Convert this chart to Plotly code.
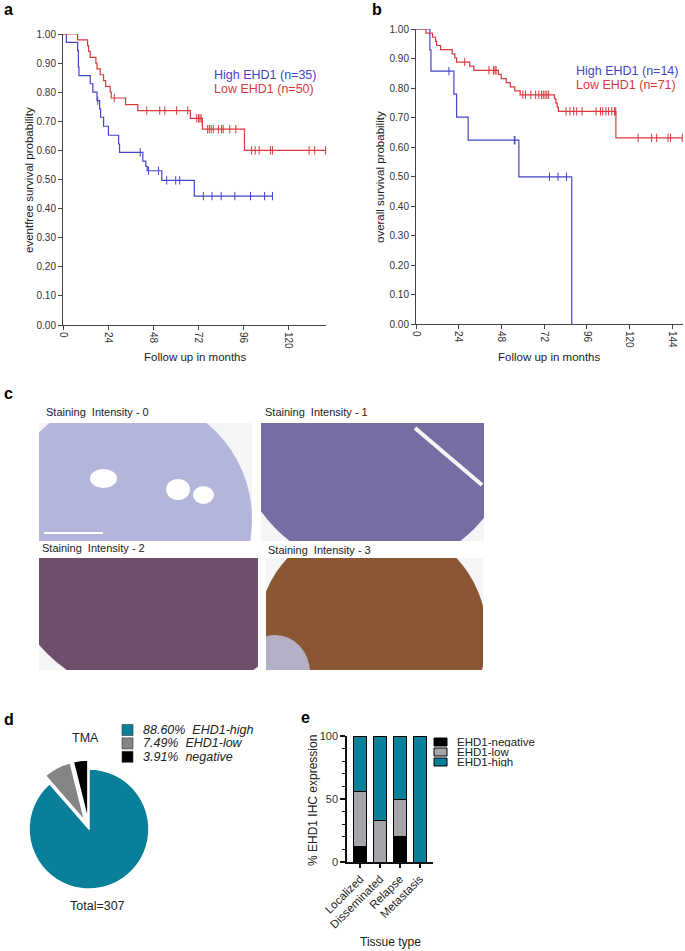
import plotly.graph_objects as go

W, H = 685, 951
FONT = "Arial, Liberation Sans, sans-serif"
BLUE = "#4444c6"
RED = "#d9393b"
TEAL = "#0a7f99"

# a: event-free survival (months, survival after each drop)
a_high_t = [0, 1.8, 7.8, 8.2, 8.5, 14.5, 15.9, 18.1, 19.5, 20.0, 21.6, 24.2, 29.6, 30.1, 42.5, 44.1, 44.8, 52.6, 69.9]
a_high_s = [1.0, 0.971, 0.943, 0.886, 0.857, 0.829, 0.800, 0.771, 0.743, 0.714, 0.683, 0.652, 0.622, 0.593, 0.563, 0.545, 0.530, 0.497, 0.443]
a_high_end = 111.5
a_high_cens = [18.5, 41.1, 45.5, 50.8, 55.2, 60.0, 62.1, 74.7, 79.3, 84.2, 91.5, 99.8, 107.3, 111.5]

a_low_t = [0, 7.8, 13.1, 13.6, 14.5, 17.5, 18.1, 19.8, 21.6, 22.7, 25.1, 25.7, 33.3, 39.8, 67.8, 74.2, 96.6]
a_low_s = [1.0, 0.98, 0.96, 0.94, 0.92, 0.90, 0.88, 0.86, 0.84, 0.82, 0.80, 0.78, 0.757, 0.737, 0.71, 0.673, 0.60]
a_low_end = 139.8
a_low_cens = [27.3, 44.6, 51.5, 54.2, 60.5, 66.4, 71.2, 72.2, 72.9, 73.6, 77.0, 77.9, 78.9, 80.0,
              82.7, 84.4, 85.3, 88.8, 92.0, 100.4, 102.3, 104.4, 110.4, 111.5, 131.0, 134.0, 139.8]

# b: overall survival
b_high_t = [0, 7.8, 8.4, 21.3, 22.8, 29.3, 57.8, 87.5]
b_high_s = [1.0, 0.929, 0.857, 0.779, 0.701, 0.623, 0.499, 0.0]
b_high_end = 87.5
b_high_cens = [18.5, 55.2, 55.6, 75.0, 79.8, 84.5]

b_low_t = [0, 5.6, 9.3, 11.0, 11.6, 13.8, 20.3, 21.8, 22.8, 30.2, 32.5, 46.3, 47.9, 50.7, 53.0, 55.5, 58.5,
           77.8, 78.6, 79.3, 80.0, 112.3]
b_low_s = [1.0, 0.986, 0.972, 0.958, 0.944, 0.930, 0.916, 0.902, 0.888, 0.874, 0.860, 0.846, 0.832, 0.818,
           0.804, 0.790, 0.777, 0.763, 0.749, 0.735, 0.721, 0.631]
b_low_end = 149.6
b_low_cens = [27.4, 41.0, 43.5, 44.4, 45.0, 60.0, 61.5, 64.5, 67.2, 69.0, 70.5, 71.5, 72.5, 73.5, 74.5,
              84.3, 86.5, 88.6, 90.3, 93.3, 101.2, 103.6, 104.9, 106.7, 108.2, 110.0, 111.5, 112.2,
              124.8, 132.4, 135.2, 141.6, 143.0, 149.6]

km_legend_a = ["High EHD1 (n=35)", "Low EHD1 (n=50)"]
km_legend_b = ["High EHD1 (n=14)", "Low EHD1 (n=71)"]
month_ticks = [0, 24, 48, 72, 96, 120, 144]

# c: staining intensity panels
stain_labels = ["Staining  Intensity - 0", "Staining  Intensity - 1", "Staining  Intensity - 2", "Staining  Intensity - 3"]

# d: TMA pie
pie_labels = ["EHD1-high", "EHD1-low", "negative"]
pie_values = [88.60, 7.49, 3.91]
pie_colors = [TEAL, "#858585", "#000000"]
pie_total = 307

# e: stacked bars
tissue = ["Localized", "Disseminated", "Relapse", "Metastasis"]
e_negative = [12, 0, 20, 0]
e_low = [44, 33, 30, 0]
e_high = [44, 67, 50, 100]
e_names = ["EHD1-negative", "EHD1-low", "EHD1-high"]
e_colors = ["#000000", "#a5a5a9", TEAL]


def fx(p):
    return p / W


def fy(p):
    return 1 - p / H


def surv_at(t, s, x):
    val = s[0]
    for ti, si in zip(t, s):
        if ti <= x:
            val = si
    return val


fig = go.Figure()


def km(t, s, end, cens, color, xa, ya):
    fig.add_trace(go.Scatter(x=t + [end], y=s + [s[-1]], mode="lines", line_shape="hv",
                             line=dict(color=color, width=1.2), xaxis=xa, yaxis=ya,
                             cliponaxis=False, hoverinfo="skip"))
    fig.add_trace(go.Scatter(x=cens, y=[surv_at(t, s, c) for c in cens], mode="markers",
                             marker=dict(symbol="line-ns", size=6, line=dict(color=color, width=1)),
                             xaxis=xa, yaxis=ya, cliponaxis=False, hoverinfo="skip"))


km(a_high_t, a_high_s, a_high_end, a_high_cens, BLUE, "x", "y")
km(a_low_t, a_low_s, a_low_end, a_low_cens, RED, "x", "y")
km(b_high_t, b_high_s, b_high_end, b_high_cens, BLUE, "x2", "y2")
km(b_low_t, b_low_s, b_low_end, b_low_cens, RED, "x2", "y2")

# image placeholders (x0, x1, y0, y1 in px)
img_boxes = [(39, 252, 423, 541), (261, 484, 423, 541), (39, 258, 558, 670), (266, 483, 558, 670)]
img_cores = [(128, 519, 124), (375, 430, 140), (160, 540, 160), (372, 636, 115)]
img_colors = ["#b3b5db", "#766da2", "#6e4f69", "#8a5634"]
for i in range(4):
    n = i + 3
    fig.add_trace(go.Scatter(x=[], y=[], xaxis=f"x{n}", yaxis=f"y{n}", hoverinfo="skip"))

# e bars
for name, vals, col in zip(e_names, [e_negative, e_low, e_high], e_colors):
    fig.add_trace(go.Bar(x=tissue, y=vals, name=name, marker=dict(color=col, line=dict(color="#000", width=1)),
                         width=0.65, xaxis="x7", yaxis="y7", hoverinfo="skip"))

# d pie
pr = 60
pull = 0.15
half = pr * (1 + pull)
pcx, pcy = 89, 829
fig.add_trace(go.Pie(labels=pie_labels, values=pie_values, sort=False, direction="clockwise", rotation=0,
                     marker=dict(colors=pie_colors, line=dict(color="white", width=1.5)),
                     pull=[0, pull, pull], textinfo="none", hoverinfo="skip", automargin=False,
                     domain=dict(x=[fx(pcx - half), fx(pcx + half)], y=[fy(pcy + half), fy(pcy - half)])))

axis_common = dict(showline=True, linecolor="#444", linewidth=1, ticks="outside", ticklen=4,
                   tickcolor="#444", showgrid=False, zeroline=False, automargin=False,
                   tickfont=dict(family=FONT, size=10, color="#333"))

layout = dict(
    width=W, height=H, autosize=False,
    margin=dict(l=0, r=0, t=0, b=0, pad=0, autoexpand=False), showlegend=False,
    paper_bgcolor="white", plot_bgcolor="white", barmode="stack",
    font=dict(family=FONT, color="#222"),
    xaxis=dict(domain=[fx(63), fx(326)], range=[0, 140], tickvals=month_ticks[:6], tickangle=90,
               anchor="y", **axis_common),
    yaxis=dict(domain=[fy(325), fy(34)], range=[0, 1], dtick=0.1, tickformat=".2f", anchor="x", **axis_common),
    xaxis2=dict(domain=[fx(416), fx(683)], range=[0, 150], tickvals=month_ticks, tickangle=90,
                anchor="y2", **axis_common),
    yaxis2=dict(domain=[fy(324), fy(29)], range=[0, 1], dtick=0.1, tickformat=".2f", anchor="x2", **axis_common),
    xaxis7=dict(domain=[fx(347), fx(433)], range=[-0.66, 3.66], tickangle=-45, anchor="y7",
                showline=True, linecolor="#111", linewidth=1.5, ticks="outside", ticklen=4, tickwidth=1.5,
                tickcolor="#111", showgrid=False, zeroline=False, automargin=False,
                tickfont=dict(family=FONT, size=11.5, color="#222")),
    yaxis7=dict(domain=[fy(862), fy(736)], range=[0, 100], tickvals=[0, 50, 100], anchor="x7",
                showline=True, linecolor="#111", linewidth=1.5, ticks="outside", ticklen=5, tickwidth=1.5,
                tickcolor="#111", showgrid=False, zeroline=False, automargin=False,
                minor=dict(dtick=10, ticks="outside", ticklen=3, tickcolor="#111", tickwidth=1),
                tickfont=dict(family=FONT, size=11, color="#333")),
)

shapes = []
for i, ((x0, x1, y0, y1), (cx, cy, r), col) in enumerate(zip(img_boxes, img_cores, img_colors)):
    n = i + 3
    layout[f"xaxis{n}"] = dict(domain=[fx(x0), fx(x1)], range=[x0, x1], visible=False, anchor=f"y{n}")
    layout[f"yaxis{n}"] = dict(domain=[fy(y1), fy(y0)], range=[y1, y0], visible=False, anchor=f"x{n}")
    shapes.append(dict(type="rect", xref=f"x{n}", yref=f"y{n}", x0=x0, x1=x1, y0=y0, y1=y1,
                       fillcolor="#f5f5f7", line=dict(width=0), layer="below"))
    shapes.append(dict(type="circle", xref=f"x{n}", yref=f"y{n}", x0=cx - r, x1=cx + r, y0=cy - r, y1=cy + r,
                       fillcolor=col, line=dict(width=0), layer="below"))

# a few lumens / cracks / scale bar
shapes += [
    dict(type="circle", xref="x3", yref="y3", x0=90, x1=117, y0=469, y1=488, fillcolor="white", line=dict(width=0)),
    dict(type="circle", xref="x3", yref="y3", x0=166, x1=190, y0=479, y1=500, fillcolor="white", line=dict(width=0)),
    dict(type="circle", xref="x3", yref="y3", x0=193, x1=214, y0=486, y1=504, fillcolor="white", line=dict(width=0)),
    dict(type="line", xref="x3", yref="y3", x0=44, x1=103, y0=533, y1=533, line=dict(color="white", width=2)),
    dict(type="line", xref="x4", yref="y4", x0=415, x1=482, y0=428, y1=485, line=dict(color="#f5f5f7", width=4)),
    dict(type="circle", xref="x6", yref="y6", x0=240, x1=310, y0=635, y1=710, fillcolor="#b5b0c6", line=dict(width=0)),
]

# pie legend
for i, (lab, v, col) in enumerate(zip(pie_labels, pie_values, pie_colors)):
    yc = 730 + i * 13.4
    shapes.append(dict(type="rect", xref="paper", yref="paper", x0=fx(122), x1=fx(133), y0=fy(yc + 5.5),
                       y1=fy(yc - 5.5), fillcolor=col, line=dict(color="#333", width=0.6)))
# bar legend
for i, (lab, col) in enumerate(zip(e_names, e_colors)):
    yc = 742 + i * 10
    shapes.append(dict(type="rect", xref="paper", yref="paper", x0=fx(434), x1=fx(447), y0=fy(yc + 4),
                       y1=fy(yc - 4), fillcolor=col, line=dict(color="#000", width=1)))

layout["shapes"] = shapes

ann = []


def text(x, y, s, size=12, xanchor="center", angle=0, color="#222", bold=False, italic=False, height=None):
    a = dict(x=fx(x), y=fy(y), xref="paper", yref="paper", text=s, showarrow=False,
             xanchor=xanchor, yanchor="middle", textangle=angle, borderpad=0,
             font=dict(family=FONT, size=size, color=color,
                       weight="bold" if bold else "normal",
                       style="italic" if italic else "normal"))
    if height:
        a["height"] = height
    ann.append(a)


# panel letters
text(3, 9, "a", 16, "left", bold=True, color="#000")
text(371, 9, "b", 16, "left", bold=True, color="#000")
text(3, 393, "c", 16, "left", bold=True, color="#000")
text(3, 719, "d", 16, "left", bold=True, color="#000")
text(300, 717, "e", 16, "left", bold=True, color="#000")

# a / b titles and legends
text(29, 180, "eventfree survival probability", 11.5, angle=-90)
text(195, 357, "Follow up in months", 11.5)
text(213, 75, km_legend_a[0], 12.5, "left", color=BLUE)
text(213, 89, km_legend_a[1], 12.5, "left", color=RED)
text(380, 177, "overall survival probability", 11.5, angle=-90)
text(549, 357, "Follow up in months", 11.5)
text(575, 71, km_legend_b[0], 12.5, "left", color=BLUE)
text(575, 85, km_legend_b[1], 12.5, "left", color=RED)

# c labels
text(45, 412, stain_labels[0], 11, "left")
text(264, 412, stain_labels[1], 11, "left")
text(41, 548, stain_labels[2], 11, "left")
text(267, 550, stain_labels[3], 11, "left")

# d texts
text(85, 738, "TMA", 12.5)
text(98, 906, f"Total={pie_total}", 12.5)
for i, (lab, v) in enumerate(zip(pie_labels, pie_values)):
    text(142, 730 + i * 13.4, f"{v:.2f}%  {lab}", 12.5, "left", italic=True)

# e texts
text(313, 801, "% EHD1 IHC expression", 12, angle=-90)
text(390, 942, "Tissue type", 12)
for i, lab in enumerate(e_names):
    text(456, 742 + i * 10, lab, 11.5, "left", height=10)

layout["annotations"] = ann
fig.update_layout(**layout)
fig.write_html("out.html", config={"displayModeBar": False},
               post_script="document.body.style.margin='0px';")
